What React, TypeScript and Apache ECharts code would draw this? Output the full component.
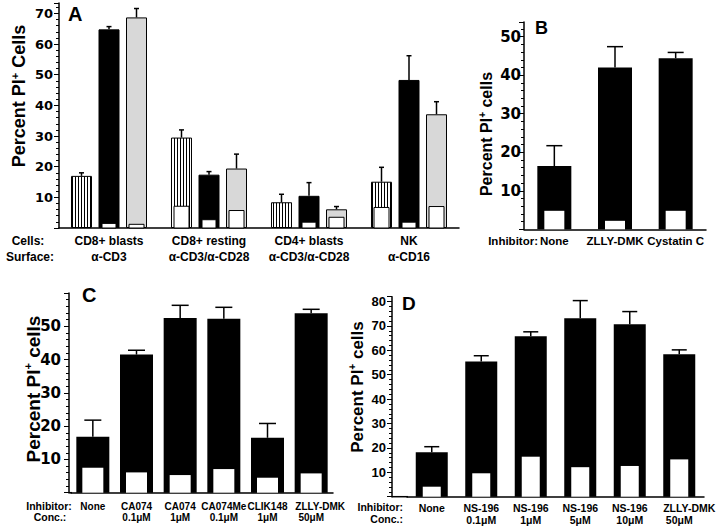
import React, { useEffect, useRef } from 'react';
import * as echarts from 'echarts';

const FONT = '"Liberation Sans", Arial, Helvetica, sans-serif';
const WIDE = '"DejaVu Sans", "Liberation Sans", sans-serif';

// ---------- Panel A ----------
const catsA = ['CD8+ blasts\nα-CD3', 'CD8+ resting\nα-CD3/α-CD28', 'CD4+ blasts\nα-CD3/α-CD28', 'NK\nα-CD16'];
const hatchA = [17.0, 29.5, 8.4, 15.1];
const hatchErrA = [1.0, 2.5, 2.6, 4.7];
const hatchInnerA = [0, 7.1, 0, 6.7];
const blackA = [64.8, 17.4, 10.5, 48.3];
const blackErrA = [0.9, 1.0, 4.3, 7.9];
const blackInnerA = [1.5, 2.7, 1.9, 1.9];
const grayA = [68.7, 19.4, 6.1, 37.1];
const grayErrA = [2.9, 4.7, 0.9, 4.1];
const grayInnerA = [1.2, 5.7, 3.5, 7.0];

// ---------- Panel B ----------
const catsB = ['None', 'ZLLY-DMK', 'Cystatin C'];
const valB = [16.4, 42.0, 44.4];
const errB = [5.3, 5.4, 1.5];
const innerB = [4.8, 2.2, 4.8];

// ---------- Panel C ----------
const catsC = ['None', 'CA074\n0.1μM', 'CA074\n1μM', 'CA074Me\n0.1μM', 'CLIK148\n1μM', 'ZLLY-DMK\n50μM'];
const valC = [16.8, 41.5, 52.5, 52.3, 16.5, 53.9];
const errC = [5.0, 1.3, 3.8, 3.4, 4.3, 1.2];
const innerC = [7.5, 6.1, 5.3, 7.1, 4.5, 5.8];

// ---------- Panel D ----------
const catsD = ['None', 'NS-196\n0.1μM', 'NS-196\n1μM', 'NS-196\n5μM', 'NS-196\n10μM', 'ZLLY-DMK\n50μM'];
const valD = [18.2, 55.4, 65.8, 73.2, 70.7, 58.4];
const errD = [2.3, 2.4, 1.8, 7.2, 5.2, 1.8];
const innerD = [4.1, 9.6, 16.4, 12.1, 12.6, 15.3];

const triples = (v: number[], e: number[]) => v.map((x, i) => [i, x, e[i]]);
const pairs = (v: number[]) => v.map((x, i) => [i, x]);

const errItem = (offset: number, cap: number) => (_p: any, api: any) => {
  const i = api.value(0);
  const v = api.value(1);
  const e = api.value(2);
  const a = api.coord([i, v]);
  const b = api.coord([i, v + e]);
  const x = a[0] + offset;
  const st = { stroke: '#000', lineWidth: 1.5 };
  return {
    type: 'group',
    children: [
      { type: 'line', shape: { x1: x, y1: a[1], x2: x, y2: b[1] }, style: st },
      { type: 'line', shape: { x1: x - cap / 2, y1: b[1], x2: x + cap / 2, y2: b[1] }, style: st },
    ],
  };
};

const innerItem = (offset: number, width: number, outline: boolean) => (_p: any, api: any) => {
  const i = api.value(0);
  const w = api.value(1);
  if (!(w > 0)) return { type: 'group', children: [] };
  const a = api.coord([i, 0]);
  const b = api.coord([i, w]);
  return {
    type: 'rect',
    shape: { x: a[0] + offset - width / 2, y: b[1], width, height: a[1] - b[1] },
    style: { fill: '#fff', stroke: outline ? '#000' : null, lineWidth: 1 },
  };
};

const xAxisCfg = (idx: number, data: string[], size: number, lh: number, margin: number, shiftLong = 0) => ({
  type: 'category',
  gridIndex: idx,
  data,
  axisLine: { show: true, lineStyle: { color: '#000', width: 1.5 } },
  axisTick: { show: false },
  axisLabel: {
    interval: 0,
    color: '#000',
    fontFamily: FONT,
    fontWeight: 'bold',
    fontSize: size,
    lineHeight: lh,
    margin,
    formatter: (v: string) => {
      const lines = v.split('\n');
      if (shiftLong > 0 && lines.length > 1 && lines[0] === 'ZLLY-DMK') {
        lines[0] = `{z|${lines[0]}}`;
      }
      return lines.join('\n');
    },
    rich: {
      z: {
        fontFamily: FONT,
        fontWeight: 'bold',
        fontSize: size,
        lineHeight: lh,
        color: '#000',
        padding: [0, 0, 0, shiftLong],
      },
    },
  },
  splitLine: { show: false },
});

const yAxisCfg = (idx: number, max: number, family: string, size: number, margin: number, offset: number) => ({
  type: 'value',
  gridIndex: idx,
  min: 0,
  max,
  interval: 10,
  offset,
  axisLine: { show: true, lineStyle: { color: '#000', width: 1.5 } },
  axisTick: { show: true, length: 5, lineStyle: { color: '#000', width: 1 } },
  minorTick: { show: true, splitNumber: 5, length: 3, lineStyle: { color: '#000', width: 1 } },
  splitLine: { show: false },
  minorSplitLine: { show: false },
  axisLabel: {
    color: '#000',
    fontFamily: family,
    fontWeight: 'bold',
    fontSize: size,
    margin,
    showMaxLabel: false,
    formatter: (v: number) => (v > 0 && Math.abs(v % 10) < 1e-6 ? String(v) : ''),
  },
});

const txt = (x: number, y: number, text: string, size: number, align = 'left') => ({
  type: 'text',
  x,
  y,
  style: {
    text,
    fill: '#000',
    fontFamily: FONT,
    fontWeight: 'bold',
    fontSize: size,
    align,
    verticalAlign: 'middle',
  },
});

const title = (x: number, y: number, word: string, size: number) => ({
  type: 'text',
  x,
  y,
  rotation: Math.PI / 2,
  style: {
    text: `{a|Percent PI}{s|+}{a| ${word}}`,
    align: 'center',
    verticalAlign: 'middle',
    fill: '#000',
    rich: {
      a: { fontFamily: FONT, fontWeight: 'bold', fontSize: size, lineHeight: size + 2, fill: '#000' },
      s: { fontFamily: FONT, fontWeight: 'bold', fontSize: Math.round(size * 0.6), verticalAlign: 'top', lineHeight: Math.round(size * 0.7), fill: '#000' },
    },
  },
});

export default function App() {
  const ref = useRef<HTMLDivElement>(null);
  useEffect(() => {
    if (!ref.current) return;
    const chart = echarts.init(ref.current, undefined, { renderer: 'svg' });

    const cv = document.createElement('canvas');
    cv.width = 3;
    cv.height = 3;
    const ctx = cv.getContext('2d')!;
    ctx.fillStyle = '#fff';
    ctx.fillRect(0, 0, 3, 3);
    ctx.fillStyle = '#000';
    ctx.fillRect(0, 0, 1, 3);
    const hatch: any = { image: cv, repeat: 'repeat' };

    const aOff = 27.5;
    const option: any = {
      animation: false,
      backgroundColor: '#fff',
      grid: [
        { left: 59, top: 3, width: 400, height: 225 },
        { left: 524, top: 22, width: 182, height: 207.3 },
        { left: 71, top: 293, width: 262, height: 199.7 },
        { left: 407, top: 296.7, width: 297, height: 200 },
      ],
      xAxis: [
        xAxisCfg(0, catsA, 12, 16, 5),
        xAxisCfg(1, catsB, 11.5, 14, 5),
        xAxisCfg(2, catsC, 10, 11, 8, 18),
        xAxisCfg(3, catsD, 10.5, 12, 5, 20),
      ],
      yAxis: [
        yAxisCfg(0, 73.4, WIDE, 13, 6, 0),
        yAxisCfg(1, 53.8, WIDE, 15, 3, 0),
        yAxisCfg(2, 60, WIDE, 15, 8, 2),
        yAxisCfg(3, 82, FONT, 13, 6, 15),
      ],
      series: [
        // Panel A main bars
        { type: 'bar', xAxisIndex: 0, yAxisIndex: 0, data: hatchA, barWidth: 21, barGap: '31%', itemStyle: { color: hatch, borderColor: '#000', borderWidth: 1 }, z: 2 },
        { type: 'bar', xAxisIndex: 0, yAxisIndex: 0, data: blackA, barWidth: 21, barGap: '31%', itemStyle: { color: '#000', borderColor: '#000', borderWidth: 1 }, z: 2 },
        { type: 'bar', xAxisIndex: 0, yAxisIndex: 0, data: grayA, barWidth: 21, barGap: '31%', itemStyle: { color: '#d8d8d8', borderColor: '#000', borderWidth: 1 }, z: 2 },
        // Panel A inner
        { type: 'custom', xAxisIndex: 0, yAxisIndex: 0, data: pairs(hatchInnerA), encode: { x: 0, y: 1 }, renderItem: innerItem(-aOff, 15, true), z: 3 },
        { type: 'custom', xAxisIndex: 0, yAxisIndex: 0, data: pairs(blackInnerA), encode: { x: 0, y: 1 }, renderItem: innerItem(0, 14, true), z: 3 },
        { type: 'custom', xAxisIndex: 0, yAxisIndex: 0, data: pairs(grayInnerA), encode: { x: 0, y: 1 }, renderItem: innerItem(aOff, 15, true), z: 3 },
        // Panel A errors
        { type: 'custom', xAxisIndex: 0, yAxisIndex: 0, data: triples(hatchA, hatchErrA), encode: { x: 0, y: 1 }, renderItem: errItem(-aOff, 5), z: 4 },
        { type: 'custom', xAxisIndex: 0, yAxisIndex: 0, data: triples(blackA, blackErrA), encode: { x: 0, y: 1 }, renderItem: errItem(0, 5), z: 4 },
        { type: 'custom', xAxisIndex: 0, yAxisIndex: 0, data: triples(grayA, grayErrA), encode: { x: 0, y: 1 }, renderItem: errItem(aOff, 5), z: 4 },

        // Panel B
        { type: 'bar', xAxisIndex: 1, yAxisIndex: 1, data: valB, barWidth: 34, itemStyle: { color: '#000' }, z: 2 },
        { type: 'custom', xAxisIndex: 1, yAxisIndex: 1, data: pairs(innerB), encode: { x: 0, y: 1 }, renderItem: innerItem(0, 20, false), z: 3 },
        { type: 'custom', xAxisIndex: 1, yAxisIndex: 1, data: triples(valB, errB), encode: { x: 0, y: 1 }, renderItem: errItem(0, 16), z: 4 },

        // Panel C
        { type: 'bar', xAxisIndex: 2, yAxisIndex: 2, data: valC, barWidth: 33, itemStyle: { color: '#000' }, z: 2 },
        { type: 'custom', xAxisIndex: 2, yAxisIndex: 2, data: pairs(innerC), encode: { x: 0, y: 1 }, renderItem: innerItem(0, 21, false), z: 3 },
        { type: 'custom', xAxisIndex: 2, yAxisIndex: 2, data: triples(valC, errC), encode: { x: 0, y: 1 }, renderItem: errItem(0, 17), z: 4 },

        // Panel D
        { type: 'bar', xAxisIndex: 3, yAxisIndex: 3, data: valD, barWidth: 32, itemStyle: { color: '#000' }, z: 2 },
        { type: 'custom', xAxisIndex: 3, yAxisIndex: 3, data: pairs(innerD), encode: { x: 0, y: 1 }, renderItem: innerItem(0, 18, false), z: 3 },
        { type: 'custom', xAxisIndex: 3, yAxisIndex: 3, data: triples(valD, errD), encode: { x: 0, y: 1 }, renderItem: errItem(0, 15), z: 4 },
      ],
      graphic: [
        // baseline extensions where y axis is offset
        { type: 'line', shape: { x1: 391.5, y1: 496.7, x2: 408, y2: 496.7 }, style: { stroke: '#000', lineWidth: 1.5 } },
        { type: 'line', shape: { x1: 68.5, y1: 492.7, x2: 72, y2: 492.7 }, style: { stroke: '#000', lineWidth: 1.5 } },
        // panel letters
        txt(68, 13.5, 'A', 20),
        txt(535, 27.5, 'B', 18),
        txt(82, 295, 'C', 20),
        txt(402, 303.5, 'D', 19),
        // row captions
        txt(28, 240.7, 'Cells:', 12, 'center'),
        txt(30, 256.7, 'Surface:', 12, 'center'),
        txt(538, 240.7, 'Inhibitor:', 11.5, 'right'),
        txt(49, 506, 'Inhibitor:', 10.5, 'center'),
        txt(50, 517, 'Conc.:', 10.5, 'center'),
        txt(403, 507, 'Inhibitor:', 10.5, 'right'),
        txt(403, 519, 'Conc.:', 10.5, 'right'),
        // axis titles
        title(19, 96, 'Cells', 18),
        title(486, 134, 'cells', 16),
        title(33, 389, 'cells', 19),
        title(357, 387, 'cells', 17),
      ],
    };
    chart.setOption(option);
    return () => chart.dispose();
  }, []);
  return <div ref={ref} style={{ position: 'fixed', left: 0, top: 0, width: 720, height: 526, background: '#fff' }} />;
}
